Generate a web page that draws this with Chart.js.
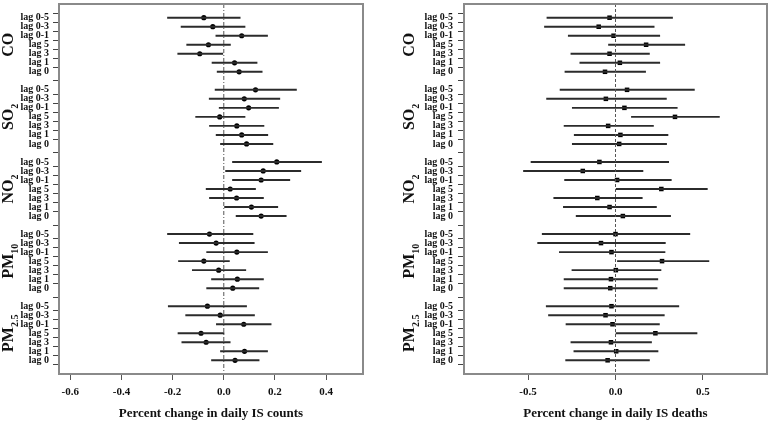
<!DOCTYPE html>
<html>
<head>
<meta charset="utf-8">
<script src="https://cdn.jsdelivr.net/npm/chart.js@4"></script>
<style>
  body { margin: 0; background: #fff; }
  #wrap { position: relative; width: 771px; height: 421px; }
  canvas { position: absolute; top: 0; }
</style>
</head>
<body>
<div id="wrap">
  <canvas id="countsChart" width="385" height="421" style="left:0"></canvas>
  <canvas id="deathsChart" width="386" height="421" style="left:385px"></canvas>
</div>
<script>
// pollutants and lags, top to bottom
const pollutants = [["CO", ""], ["SO", "2"], ["NO", "2"], ["PM", "10"], ["PM", "2.5"]];
const lagLabels = ["lag 0-5", "lag 0-3", "lag 0-1", "lag 5", "lag 3", "lag 1", "lag 0"];

// daily IS counts (per pollutant, lags in the order above)
const countEst = [
    -0.078, -0.043, 0.070, -0.060, -0.094, 0.042, 0.060,
    0.124, 0.080, 0.097, -0.016, 0.051, 0.070, 0.089,
    0.207, 0.154, 0.146, 0.025, 0.050, 0.108, 0.146,
    -0.056, -0.030, 0.051, -0.078, -0.020, 0.053, 0.035,
    -0.064, -0.014, 0.078, -0.089, -0.069, 0.081, 0.044
];
const countLow = [
    -0.220, -0.167, -0.031, -0.145, -0.180, -0.046, -0.026,
    -0.034, -0.057, -0.018, -0.110, -0.056, -0.030, -0.013,
    0.034, 0.007, 0.034, -0.069, -0.056, 0.003, 0.048,
    -0.220, -0.174, -0.067, -0.177, -0.123, -0.048, -0.067,
    -0.217, -0.149, -0.029, -0.179, -0.164, -0.013, -0.048
];
const countHigh = [
    0.064, 0.083, 0.171, 0.026, -0.004, 0.130, 0.150,
    0.284, 0.219, 0.214, 0.083, 0.157, 0.172, 0.192,
    0.382, 0.301, 0.258, 0.124, 0.155, 0.211, 0.244,
    0.114, 0.119, 0.171, 0.022, 0.086, 0.155, 0.137,
    0.089, 0.120, 0.185, 0.001, 0.025, 0.171, 0.138
];

// daily IS deaths
const deathEst = [
    -0.034, -0.096, -0.011, 0.175, -0.034, 0.025, -0.060,
    0.066, -0.055, 0.051, 0.340, -0.042, 0.028, 0.021,
    -0.092, -0.187, 0.009, 0.262, -0.104, -0.034, 0.042,
    0.000, -0.083, -0.023, 0.266, 0.002, -0.026, -0.030,
    -0.023, -0.057, -0.017, 0.228, -0.026, 0.004, -0.045
];
const deathLow = [
    -0.392, -0.406, -0.270, -0.040, -0.255, -0.204, -0.289,
    -0.317, -0.394, -0.247, 0.091, -0.294, -0.236, -0.247,
    -0.483, -0.526, -0.291, 0.004, -0.353, -0.298, -0.225,
    -0.419, -0.445, -0.321, 0.011, -0.249, -0.294, -0.294,
    -0.396, -0.383, -0.283, 0.000, -0.255, -0.238, -0.285
];
const deathHigh = [
    0.326, 0.221, 0.253, 0.396, 0.194, 0.253, 0.172,
    0.451, 0.291, 0.353, 0.594, 0.217, 0.300, 0.292,
    0.304, 0.157, 0.319, 0.525, 0.153, 0.234, 0.315,
    0.425, 0.285, 0.283, 0.534, 0.260, 0.242, 0.238,
    0.362, 0.279, 0.251, 0.466, 0.206, 0.243, 0.194
];

const countTicks = [-0.6, -0.4, -0.2, 0.0, 0.2, 0.4];
const deathTicks = [-0.5, 0.0, 0.5];

// row position of every estimate: one blank row between pollutants
const rows = [];
pollutants.forEach((p, i) => lagLabels.forEach((l, j) => rows.push(i * 8 + j)));
const rowText = {};
rows.forEach((r, k) => rowText[r] = lagLabels[k % 7]);

const serif = "'Liberation Serif', 'DejaVu Serif', serif";

// frame round the plot area and the pollutant names
function framePlugin(labelX) {
    return {
        id: "frame",
        afterDraw(chart) {
            const ctx = chart.ctx;
            const a = chart.chartArea;
            const y = chart.scales.y;
            ctx.save();
            ctx.strokeStyle = "#8a8a8a";
            ctx.lineWidth = 2;
            ctx.strokeRect(a.left, a.top, a.right - a.left, a.bottom - a.top);

            ctx.fillStyle = "#111";
            ctx.textBaseline = "middle";
            pollutants.forEach((p, i) => {
                const cy = (y.getPixelForValue(i * 8) + y.getPixelForValue(i * 8 + 6)) / 2;
                ctx.save();
                ctx.translate(labelX, cy);
                ctx.rotate(-Math.PI / 2);
                ctx.font = "bold 16px " + serif;
                const w1 = ctx.measureText(p[0]).width;
                ctx.font = "bold 10px " + serif;
                const w2 = p[1] ? ctx.measureText(p[1]).width : 0;
                const x0 = -(w1 + w2) / 2;
                ctx.font = "bold 16px " + serif;
                ctx.textAlign = "left";
                ctx.fillText(p[0], x0, 0);
                if (p[1]) {
                    ctx.font = "bold 10px " + serif;
                    ctx.fillText(p[1], x0 + w1, 6);
                }
                ctx.restore();
            });
            ctx.restore();
        }
    };
}

function makeChart(id, est, low, high, opts) {
    const ctx = document.getElementById(id).getContext("2d");
    return new Chart(ctx, {
        type: "bar",
        data: {
            datasets: [
                {
                    type: "line",
                    data: [{ x: 0, y: -1.52 }, { x: 0, y: 39.52 }],
                    borderColor: "#555",
                    borderWidth: 1,
                    borderDash: opts.zeroDash,
                    pointRadius: 0
                },
                {
                    type: "bar",
                    data: rows.map((r, k) => ({ x: [low[k], high[k]], y: r })),
                    backgroundColor: "#2b2b2b",
                    barThickness: 1.3
                },
                {
                    type: "line",
                    showLine: false,
                    data: rows.map((r, k) => ({ x: est[k], y: r })),
                    pointStyle: opts.pointStyle,
                    pointRadius: opts.pointRadius,
                    backgroundColor: "#000",
                    borderColor: "#000",
                    borderWidth: 0
                }
            ]
        },
        options: {
            indexAxis: "y",
            responsive: false,
            animation: false,
            layout: { padding: { top: 2, right: opts.padRight, left: 0, bottom: 0 } },
            plugins: { legend: { display: false }, tooltip: { enabled: false } },
            scales: {
                x: {
                    type: "linear",
                    min: opts.xMin,
                    max: opts.xMax,
                    afterBuildTicks: s => { s.ticks = opts.ticks.map(v => ({ value: v })); },
                    afterFit: s => { s.height = 47; s.paddingLeft = 0; s.paddingRight = 0; },
                    border: { display: false },
                    grid: { drawOnChartArea: false, tickLength: 6, color: "#555" },
                    ticks: {
                        callback: v => v.toFixed(1),
                        color: "#111",
                        padding: 6,
                        font: { family: serif, size: 11, weight: "bold" }
                    },
                    title: {
                        display: true,
                        text: opts.title,
                        color: "#111",
                        padding: { top: 0, bottom: 0 },
                        font: { family: serif, size: 13, weight: "bold" }
                    }
                },
                y: {
                    type: "linear",
                    reverse: true,
                    offset: false,
                    min: -1.52,
                    max: 39.52,
                    afterBuildTicks: s => { s.ticks = rows.map(v => ({ value: v })); },
                    afterFit: s => { s.width = opts.yWidth; s.paddingTop = 0; s.paddingBottom = 0; },
                    border: { display: false },
                    grid: { drawOnChartArea: false, tickLength: 6, color: "#444" },
                    ticks: {
                        autoSkip: false,
                        callback: v => rowText[v] || "",
                        color: "#111",
                        padding: opts.yPad,
                        font: { family: serif, size: 10, weight: "bold" }
                    }
                }
            }
        },
        plugins: [framePlugin(opts.labelX)]
    });
}

makeChart("countsChart", countEst, countLow, countHigh, {
    xMin: -0.644, xMax: 0.544, ticks: countTicks,
    title: "Percent change in daily IS counts",
    zeroDash: [4, 2, 1, 2], pointStyle: "circle", pointRadius: 2.6,
    yWidth: 59, yPad: 4, padRight: 22, labelX: 9
});

makeChart("deathsChart", deathEst, deathLow, deathHigh, {
    xMin: -0.866, xMax: 0.866, ticks: deathTicks,
    title: "Percent change in daily IS deaths",
    zeroDash: [3, 2], pointStyle: "rect", pointRadius: 3.2,
    yWidth: 79, yPad: 5, padRight: 2, labelX: 25
});
</script>
</body>
</html>
